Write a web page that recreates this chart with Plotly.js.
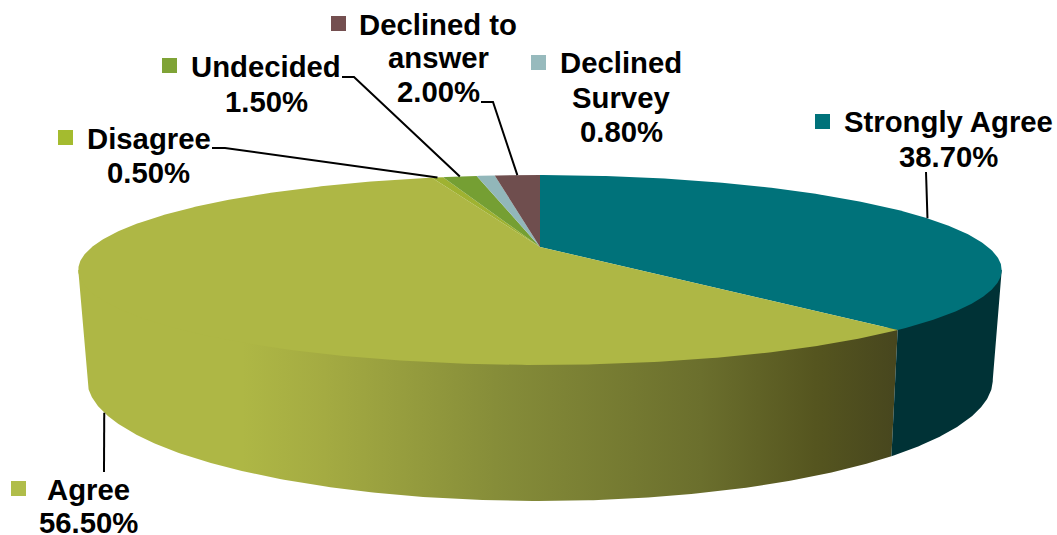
<!DOCTYPE html>
<html>
<head>
<meta charset="utf-8">
<script src="https://cdn.plot.ly/plotly-3.0.1.min.js"></script>
<style>html,body{margin:0;padding:0;background:#fff}#chart{width:1057px;height:535px}</style>
</head>
<body>
<div id="chart"></div>
<script>
// Survey responses, clockwise from twelve o'clock
const categories = ['Strongly Agree', 'Agree', 'Disagree', 'Undecided', 'Declined Survey', 'Declined to answer'];
const values = [38.7, 56.5, 0.5, 1.5, 0.8, 2.0];
const labelLines = [
  ['Strongly Agree'], ['Agree'], ['Disagree'], ['Undecided'],
  ['Declined', 'Survey'], ['Declined to', 'answer']
];
const topColors = ['#00727a', '#aeb745', '#9fb231', '#759f33', '#92b7ba', '#6f4e4e'];
const keyColors = ['#00727a', '#b0bd4a', '#a4bb2f', '#7fa336', '#97babd', '#744f50'];

// Perspective of the tilted disc: the upper rim and the lower rim of the cylinder
const upperRim = {cx: 540, cy: 247, A: 448, a: 89.4, b: 0.242};
const lowerRim = {cx: 540, cy: 350, A: 439, a: 114, b: 0.245};

function project(rim, deg) {
  const t = deg * Math.PI / 180, u = Math.sin(t), v = -Math.cos(t), d = 1 - rim.b * v;
  return [rim.cx + rim.A * u / d, rim.cy + rim.a * v / d];
}
function arc(rim, from, to) {
  const n = Math.max(2, Math.ceil(Math.abs(to - from) * 2)), pts = [];
  for (let i = 0; i <= n; i++) pts.push(project(rim, from + (to - from) * i / n));
  return pts;
}
const total = values.reduce((s, v) => s + v, 0);
const edges = [0];
values.forEach(v => edges.push(edges[edges.length - 1] + v / total * 360));
const midAngle = i => (edges[i] + edges[i + 1]) / 2;

// The visible wall runs between the two silhouette points of the disc
const silRight = Math.acos(-upperRim.b) * 180 / Math.PI;
const silLeft = 360 - silRight;

function wall(from, to, fill) {
  // The upper edge tucks slightly under the disc so no seam shows along the rim
  const tucked = arc(upperRim, from, to).map(p => [
    p[0] + (upperRim.cx - p[0]) * 0.02, p[1] + (upperRim.cy - p[1]) * 0.04
  ]);
  const pts = [project(upperRim, from)].concat(tucked, [project(upperRim, to)], arc(lowerRim, to, from));
  pts.push(pts[0]);
  return Object.assign({
    type: 'scatter', mode: 'lines', fill: 'toself',
    x: pts.map(p => p[0]), y: pts.map(p => p[1]),
    line: {width: 0}, hoverinfo: 'skip', showlegend: false
  }, fill);
}
function slice(i) {
  const pts = [[upperRim.cx, upperRim.cy]].concat(arc(upperRim, edges[i], edges[i + 1]));
  pts.push(pts[0]);
  return {
    type: 'scatter', mode: 'lines', fill: 'toself', name: categories[i],
    x: pts.map(p => p[0]), y: pts.map(p => p[1]),
    fillcolor: topColors[i], line: {width: 0}, hoverinfo: 'name', showlegend: false
  };
}

// Where each label sits (centre x, one y per text line), its key square and leader elbow
const labelStyle = [
  {x: 948, ys: [121.5, 156.5], key: [822.5, 121.5], lead: [[926, 172]], rim: upperRim},
  {x: 88.5, ys: [489, 522.5], key: [18.5, 488.5], lead: [[104, 472]], rim: lowerRim},
  {x: 148.5, ys: [138.5, 172], key: [65.5, 137.5], lead: [[212, 148], [225, 148]], rim: upperRim},
  {x: 266, ys: [66, 101], key: [169.5, 65.5], lead: [[342, 77], [354, 77]], rim: upperRim},
  {x: 621, ys: [62, 97, 131], key: [538.5, 62.5], lead: null},
  {x: 438, ys: [24, 57.5, 91], key: [338.5, 23.5], lead: [[481, 102], [493, 102]], rim: upperRim}
];

const leaders = labelStyle.map((s, i) => {
  if (!s.lead) return null;
  const pts = s.lead.concat([project(s.rim, midAngle(i))]);
  return {
    type: 'scatter', mode: 'lines', x: pts.map(p => p[0]), y: pts.map(p => p[1]),
    line: {color: '#000', width: 2}, hoverinfo: 'skip', showlegend: false
  };
}).filter(Boolean);

const keys = {
  type: 'scatter', mode: 'markers',
  x: labelStyle.map(s => s.key[0]), y: labelStyle.map(s => s.key[1]),
  marker: {symbol: 'square', size: 15, color: keyColors, line: {width: 0}},
  hoverinfo: 'skip', showlegend: false
};

const agreeShade = [
  [0, '#aeb745'], [0.2, '#aeb745'], [0.3, '#a4ab42'], [0.51, '#868d39'],
  [0.76, '#6b6f2d'], [0.9, '#55551f'], [1, '#47461e']
];
const traces = [
  wall(edges[1], silLeft, {fillgradient: {type: 'horizontal', colorscale: agreeShade}}),
  wall(silRight, edges[1], {fillcolor: '#003236'})
].concat(values.map((_, i) => slice(i)), leaders, [keys]);

const annotations = categories.flatMap((_, i) =>
  labelLines[i].concat([values[i].toFixed(2) + '%']).map((line, j) => ({
    xref: 'x', yref: 'y', x: labelStyle[i].x, y: labelStyle[i].ys[j],
    xanchor: 'center', yanchor: 'middle', align: 'center', showarrow: false,
    text: line,
    font: {family: '"Liberation Sans", Arial, sans-serif', size: 29.3, color: '#000', weight: 700}
  })));

Plotly.newPlot('chart', traces, {
  width: 1057, height: 535,
  margin: {l: 0, r: 0, t: 0, b: 0},
  paper_bgcolor: '#fff', plot_bgcolor: '#fff',
  xaxis: {range: [0, 1057], visible: false, fixedrange: true},
  yaxis: {range: [535, 0], visible: false, fixedrange: true},
  annotations: annotations,
  showlegend: false
}, {displayModeBar: false, staticPlot: true});
</script>
</body>
</html>
